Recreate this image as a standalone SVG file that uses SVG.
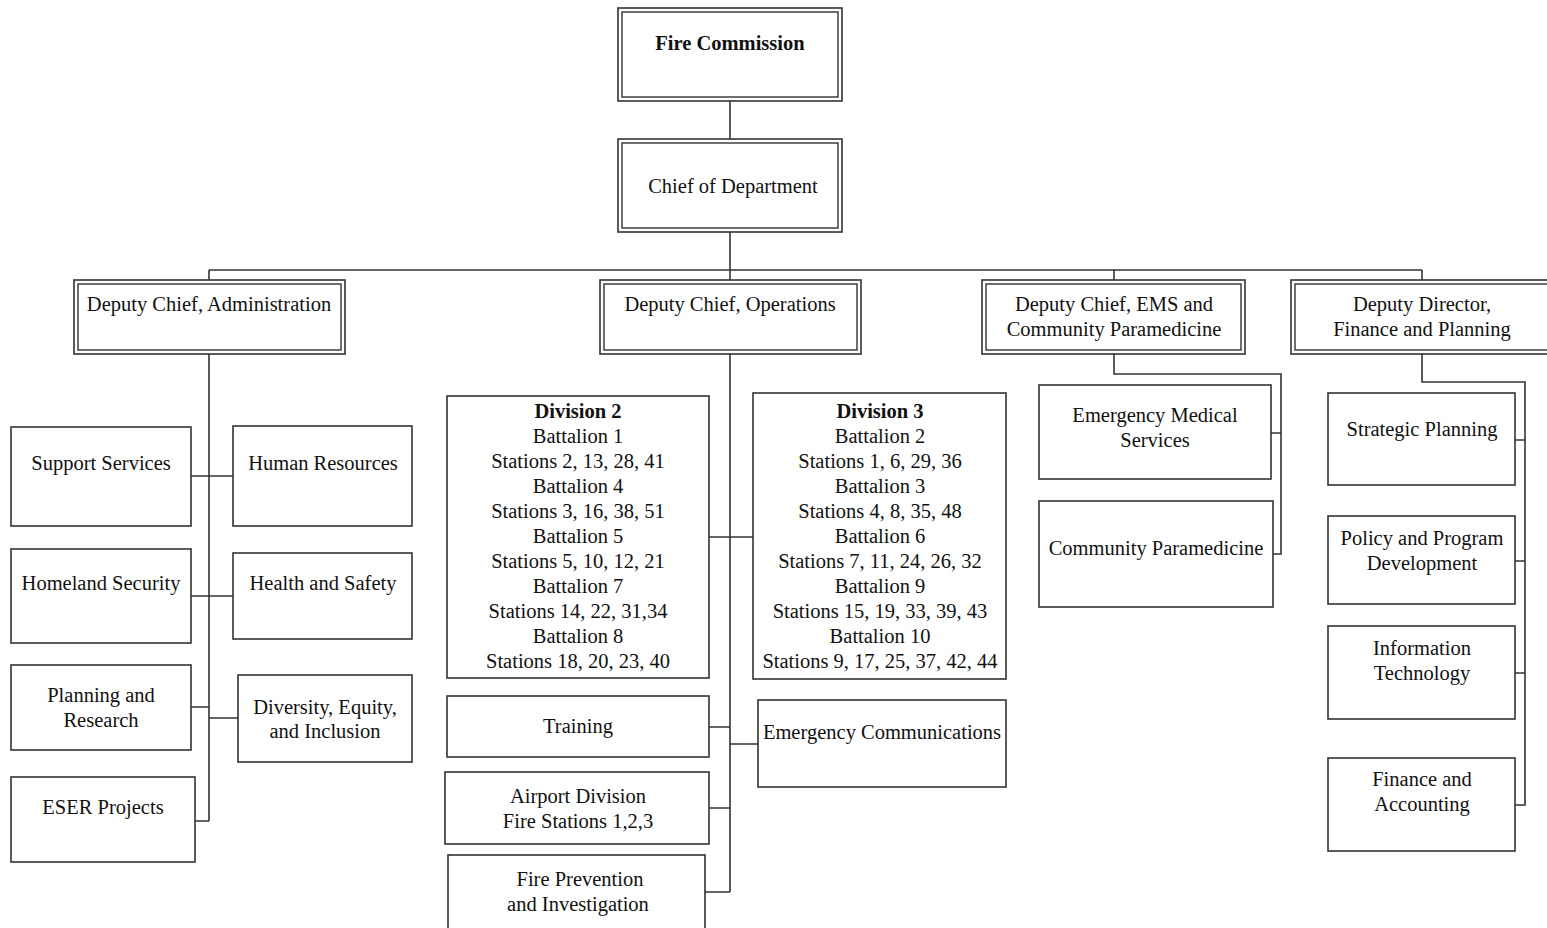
<svg xmlns="http://www.w3.org/2000/svg" width="1547" height="928" viewBox="0 0 1547 928" font-family="'Liberation Serif', Tinos, 'Times New Roman', Times, 'DejaVu Serif', serif">
<style>
text{font-family:'Liberation Serif',Tinos,'Times New Roman',Times,'DejaVu Serif',serif;font-size:20.5px;fill:#111;text-anchor:middle}
.b{font-weight:bold}
.box{fill:#fff;stroke:#333;stroke-width:1.6}
.in{fill:none;stroke:#333;stroke-width:1.4}
.c{fill:none;stroke:#333;stroke-width:1.6}
</style>
<rect width="1547" height="928" fill="#fff"/>
<g id="connectors">
<path class="c" d="M730,101V139M730,232V280M209,270H1422M209,270V280M1114,270V280M1422,270V280"/>
<path class="c" d="M209,354V821M191,476H233M191,596H233M191,707H209M209,718H238M195,821H209"/>
<path class="c" d="M730,354V892M709,537H753M709,727H730M730,744H758M709,808H730M705,892H730"/>
<path class="c" d="M1114,354V374H1281V554H1273M1271,433H1281"/>
<path class="c" d="M1422,354V382H1525V805H1515M1515,440H1525M1515,561H1525M1515,673H1525"/>
</g>
<g id="fire-commission">
<rect class="box" x="618" y="8" width="224" height="93"/>
<rect class="in" x="622" y="12" width="216" height="85"/>
<text class="b" x="730" y="50">Fire Commission</text>
</g>
<g id="chief">
<rect class="box" x="618" y="139" width="224" height="93"/>
<rect class="in" x="622" y="143" width="216" height="85"/>
<text x="733" y="193">Chief of Department</text>
</g>
<g id="dc-admin">
<rect class="box" x="74" y="280" width="271" height="74"/>
<rect class="in" x="78" y="284" width="263" height="66"/>
<text x="209" y="311">Deputy Chief, Administration</text>
</g>
<g id="dc-ops">
<rect class="box" x="600" y="280" width="261" height="74"/>
<rect class="in" x="604" y="284" width="253" height="66"/>
<text x="730" y="311">Deputy Chief, Operations</text>
</g>
<g id="dc-ems">
<rect class="box" x="982" y="280" width="263" height="74"/>
<rect class="in" x="986" y="284" width="255" height="66"/>
<text x="1114" y="311">Deputy Chief, EMS and</text>
<text x="1114" y="336">Community Paramedicine</text>
</g>
<g id="dd-finance">
<rect class="box" x="1291" y="280" width="270" height="74"/>
<rect class="in" x="1295" y="284" width="262" height="66"/>
<text x="1422" y="311">Deputy Director,</text>
<text x="1422" y="336">Finance and Planning</text>
</g>
<g id="support-services">
<rect class="box" x="11" y="427" width="180" height="99"/>
<text x="101" y="470">Support Services</text>
</g>
<g id="human-resources">
<rect class="box" x="233" y="426" width="179" height="100"/>
<text x="323" y="470">Human Resources</text>
</g>
<g id="homeland-security">
<rect class="box" x="11" y="549" width="180" height="94"/>
<text x="101" y="590">Homeland Security</text>
</g>
<g id="health-safety">
<rect class="box" x="233" y="553" width="179" height="86"/>
<text x="323" y="590">Health and Safety</text>
</g>
<g id="planning-research">
<rect class="box" x="11" y="665" width="180" height="85"/>
<text x="101" y="702">Planning and</text>
<text x="101" y="727">Research</text>
</g>
<g id="dei">
<rect class="box" x="238" y="675" width="174" height="87"/>
<text x="325" y="714">Diversity, Equity,</text>
<text x="325" y="738">and Inclusion</text>
</g>
<g id="eser">
<rect class="box" x="11" y="777" width="184" height="85"/>
<text x="103" y="814">ESER Projects</text>
</g>
<g id="division-2">
<rect class="box" x="447" y="396" width="262" height="282"/>
<text class="b" x="578" y="418">Division 2</text>
<text x="578" y="443">Battalion 1</text>
<text x="578" y="468">Stations 2, 13, 28, 41</text>
<text x="578" y="493">Battalion 4</text>
<text x="578" y="518">Stations 3, 16, 38, 51</text>
<text x="578" y="543">Battalion 5</text>
<text x="578" y="568">Stations 5, 10, 12, 21</text>
<text x="578" y="593">Battalion 7</text>
<text x="578" y="618">Stations 14, 22, 31,34</text>
<text x="578" y="643">Battalion 8</text>
<text x="578" y="668">Stations 18, 20, 23, 40</text>
</g>
<g id="division-3">
<rect class="box" x="753" y="393" width="253" height="286"/>
<text class="b" x="880" y="418">Division 3</text>
<text x="880" y="443">Battalion 2</text>
<text x="880" y="468">Stations 1, 6, 29, 36</text>
<text x="880" y="493">Battalion 3</text>
<text x="880" y="518">Stations 4, 8, 35, 48</text>
<text x="880" y="543">Battalion 6</text>
<text x="880" y="568">Stations 7, 11, 24, 26, 32</text>
<text x="880" y="593">Battalion 9</text>
<text x="880" y="618">Stations 15, 19, 33, 39, 43</text>
<text x="880" y="643">Battalion 10</text>
<text x="880" y="668">Stations 9, 17, 25, 37, 42, 44</text>
</g>
<g id="training">
<rect class="box" x="447" y="696" width="262" height="61"/>
<text x="578" y="733">Training</text>
</g>
<g id="emergency-communications">
<rect class="box" x="758" y="700" width="248" height="87"/>
<text x="882" y="739">Emergency Communications</text>
</g>
<g id="airport-division">
<rect class="box" x="445" y="772" width="264" height="72"/>
<text x="578" y="803">Airport Division</text>
<text x="578" y="828">Fire Stations 1,2,3</text>
</g>
<g id="fire-prevention">
<rect class="box" x="448" y="855" width="257" height="80"/>
<text x="580" y="886">Fire Prevention</text>
<text x="578" y="911">and Investigation</text>
</g>
<g id="ems">
<rect class="box" x="1039" y="385" width="232" height="94"/>
<text x="1155" y="422">Emergency Medical</text>
<text x="1155" y="447">Services</text>
</g>
<g id="community-paramedicine">
<rect class="box" x="1039" y="501" width="234" height="106"/>
<text x="1156" y="555">Community Paramedicine</text>
</g>
<g id="strategic-planning">
<rect class="box" x="1328" y="393" width="187" height="92"/>
<text x="1422" y="436">Strategic Planning</text>
</g>
<g id="policy-program">
<rect class="box" x="1328" y="516" width="187" height="88"/>
<text x="1422" y="545">Policy and Program</text>
<text x="1422" y="570">Development</text>
</g>
<g id="information-technology">
<rect class="box" x="1328" y="626" width="187" height="93"/>
<text x="1422" y="655">Information</text>
<text x="1422" y="680">Technology</text>
</g>
<g id="finance-accounting">
<rect class="box" x="1328" y="758" width="187" height="93"/>
<text x="1422" y="786">Finance and</text>
<text x="1422" y="811">Accounting</text>
</g>
</svg>
